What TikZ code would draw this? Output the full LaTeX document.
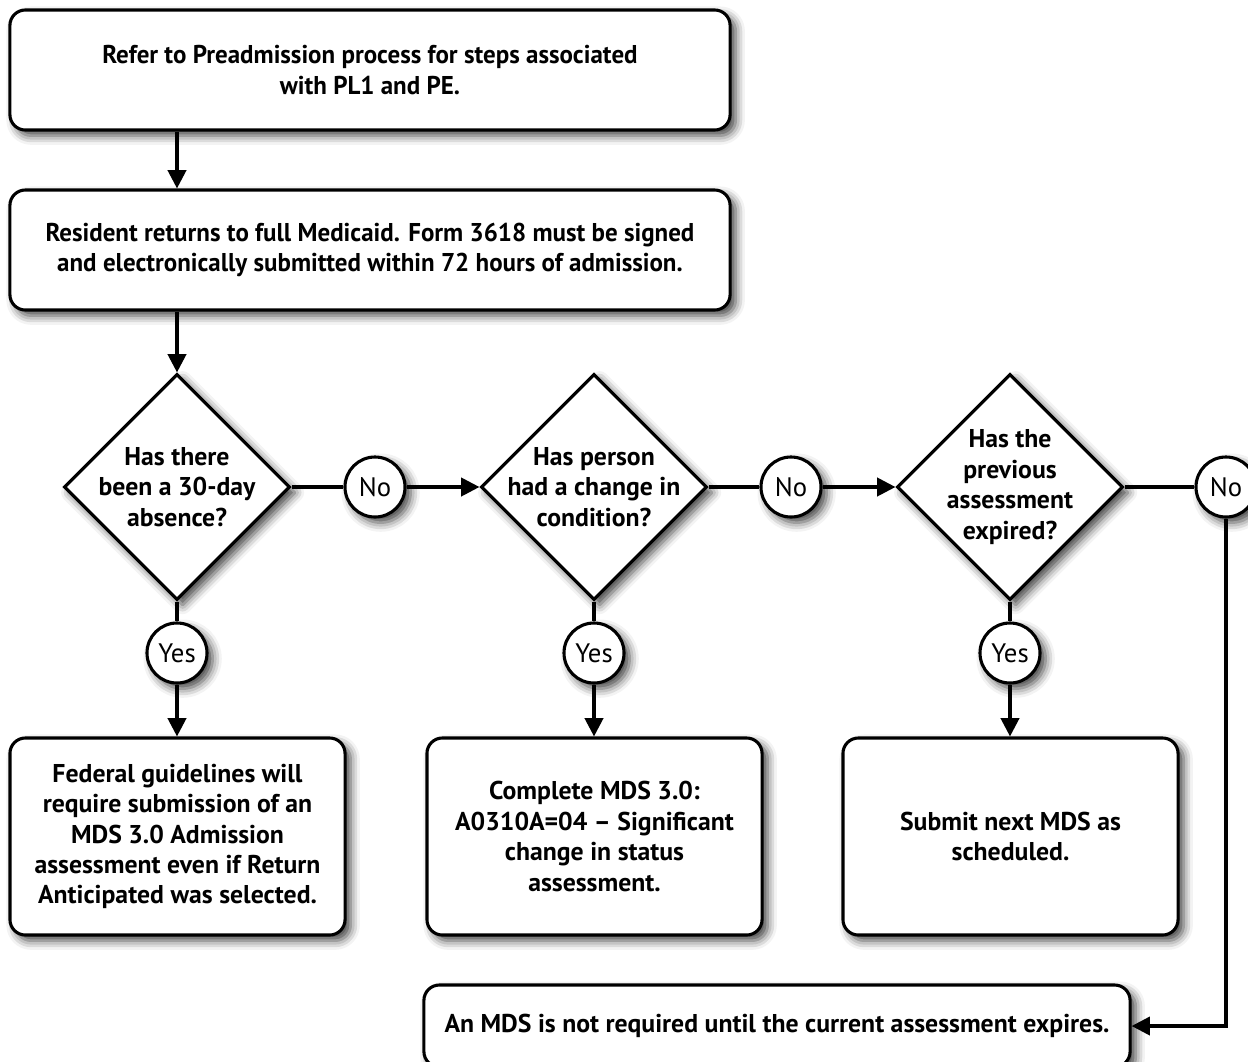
\documentclass[tikz,border=0pt]{standalone}
\usepackage{fontspec}
\setmainfont{PT Sans}
\newfontfamily\narrowfont[FakeStretch=0.97]{PT Sans}
\usetikzlibrary{shapes.geometric,arrows.meta,shadows.blur}

\begin{document}
\begin{tikzpicture}[x=0.025cm,y=-0.025cm,
    every node/.style={font=\fontsize{18.3}{21.6}\selectfont\bfseries},
    shade/.style={blur shadow={shadow xshift=4pt,shadow yshift=-4pt,shadow blur radius=6.5pt,shadow opacity=75}},
    stepbox/.style={draw,line width=2.2pt,fill=white,rounded corners=11pt,align=center,inner sep=0pt,shade},
    widebox/.style={stepbox,minimum width=18cm,minimum height=3cm,font=\fontsize{18.3}{21.6}\selectfont\narrowfont\bfseries},
    endbox/.style={stepbox,minimum width=8.375cm,minimum height=4.925cm},
    question/.style={draw,diamond,line width=2.2pt,fill=white,aspect=1,minimum size=5.65cm,inner sep=0pt,shade},
    answer/.style={draw,circle,line width=2.2pt,fill=white,minimum size=1.5cm,inner sep=0pt,shade,font=\fontsize{19}{22}\selectfont},
    arr/.style={line width=2.2pt,-{Triangle[length=13pt,width=13pt]}},
    link/.style={line width=2.2pt}]
  \useasboundingbox (0,0) rectangle (1248,1061);

  \node[widebox] (pre) at (370,70) {Refer to Preadmission process for steps associated\\with PL1 and PE.};
  \node[widebox] (ret) at (370,250) {Resident returns to full Medicaid. Form 3618 must be signed\\and electronically submitted within 72 hours of admission.};

  \node[question,label={[align=center]center:Has there\\been a 30-day\\absence?}] (q1) at (177,487) {};
  \node[question,label={[align=center]center:Has person\\had a change in\\condition?}] (q2) at (594,487) {};
  \node[question,label={[align=center]center:Has the\\previous\\assessment\\expired?}] (q3) at (1010,487) {};

  \node[answer] (no1) at (375,487) {No};
  \node[answer] (no2) at (791,487) {No};
  \node[answer] (no3) at (1226,487) {No};
  \node[answer] (yes1) at (177,653) {Yes};
  \node[answer] (yes2) at (594,653) {Yes};
  \node[answer] (yes3) at (1010,653) {Yes};

  \node[endbox] (fed) at (177.5,836.5) {Federal guidelines will\\require submission of an\\MDS 3.0 Admission\\assessment even if Return\\Anticipated was selected.};
  \node[endbox] (mds) at (594.5,836.5) {Complete MDS 3.0:\\A0310A=04 -- Significant\\change in status\\assessment.};
  \node[endbox] (next) at (1010.5,836.5) {Submit next MDS as\\scheduled.};
  \node[stepbox,minimum width=17.65cm,minimum height=2.05cm] (none) at (777,1026) {An MDS is not required until the current assessment expires.};

  \draw[arr] (q1 |- pre.south) -- (q1 |- ret.north);
  \draw[arr] (q1 |- ret.south) -- (q1.north);

  \draw[link] (q1.east) -- (no1);
  \draw[arr] (no1) -- (q2.west);
  \draw[link] (q2.east) -- (no2);
  \draw[arr] (no2) -- (q3.west);
  \draw[link] (q3.east) -- (no3);

  \draw[link] (q1.south) -- (yes1);
  \draw[arr] (yes1) -- (fed.north -| yes1);
  \draw[link] (q2.south) -- (yes2);
  \draw[arr] (yes2) -- (mds.north -| yes2);
  \draw[link] (q3.south) -- (yes3);
  \draw[arr] (yes3) -- (next.north -| yes3);

  \draw[arr] (no3.south) |- (none.east);
\end{tikzpicture}
\end{document}
